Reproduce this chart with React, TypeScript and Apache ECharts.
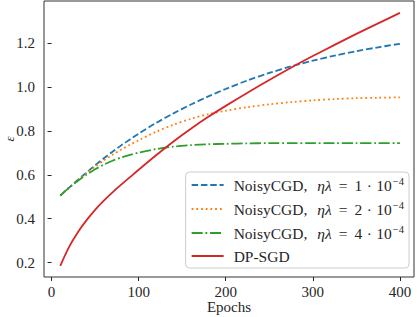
import React, { useEffect, useRef } from "react";
import * as echarts from "echarts";

const epochs = [10, 20, 30, 40, 50, 60, 70, 80, 90, 100, 120, 140, 160, 180, 200, 225, 250, 275, 300, 325, 350, 375, 400];

const cgd1 = [0.505, 0.541, 0.576, 0.61, 0.643, 0.675, 0.705, 0.734, 0.761, 0.787, 0.836, 0.88, 0.92, 0.957, 0.991, 1.03, 1.064, 1.094, 1.12, 1.143, 1.163, 1.181, 1.197];
const cgd2 = [0.505, 0.541, 0.575, 0.607, 0.637, 0.665, 0.691, 0.715, 0.737, 0.757, 0.796, 0.828, 0.855, 0.876, 0.892, 0.908, 0.921, 0.931, 0.939, 0.945, 0.949, 0.951, 0.953];
const cgd4 = [0.505, 0.541, 0.572, 0.6, 0.625, 0.646, 0.664, 0.679, 0.691, 0.701, 0.717, 0.728, 0.735, 0.739, 0.741, 0.743, 0.744, 0.744, 0.744, 0.744, 0.744, 0.744, 0.744];
const dpsgd = [0.185, 0.27, 0.337, 0.392, 0.44, 0.482, 0.52, 0.555, 0.589, 0.623, 0.689, 0.752, 0.81, 0.864, 0.914, 0.974, 1.032, 1.088, 1.141, 1.192, 1.242, 1.29, 1.338];

const xTicks = [0, 100, 200, 300, 400];
const yTicks = [0.2, 0.4, 0.6, 0.8, 1.0, 1.2];

const seriesNames = ["cgd1", "cgd2", "cgd4", "dpsgd"];
const legendLabels: Record<string, string> = {
  cgd1: "{a|NoisyCGD,}{m|ηλ}{o|=}{a|1}{d|·}{a|10}{s|−4}",
  cgd2: "{a|NoisyCGD,}{m|ηλ}{o|=}{a|2}{d|·}{a|10}{s|−4}",
  cgd4: "{a|NoisyCGD,}{m|ηλ}{o|=}{a|4}{d|·}{a|10}{s|−4}",
  dpsgd: "{a|DP-SGD}",
};
const colors = ["#1f77b4", "#ff7f0e", "#2ca02c", "#d62728"];
const dashes: (number[] | string)[] = [[6.5, 2.8], [1.8, 2.9], [11, 2.8, 1.8, 2.8], "solid"];

const FONT = "'Liberation Serif', 'DejaVu Serif', serif";
const INK = "#262626";

export default function App() {
  const ref = useRef<HTMLDivElement>(null);
  useEffect(() => {
    if (!ref.current) return;
    const chart = echarts.init(ref.current, null, { renderer: "svg" });
    const values = [cgd1, cgd2, cgd4, dpsgd];
    const base = { fontFamily: FONT, fontSize: 15.5, color: INK, lineHeight: 18 };
    chart.setOption({
      animation: false,
      grid: {
        left: 44,
        top: 1,
        right: 3,
        bottom: 40,
        containLabel: false,
        outerBoundsMode: "none",
        show: true,
        borderColor: "#333333",
        borderWidth: 1,
        backgroundColor: "transparent",
      },
      xAxis: {
        type: "value",
        min: -8.7,
        max: 416.2,
        splitLine: { show: false },
        axisLine: { show: false },
        axisTick: { show: true, length: 4, inside: false, customValues: xTicks, lineStyle: { color: INK } },
        axisLabel: { customValues: xTicks, margin: 7, fontFamily: FONT, fontSize: 15, lineHeight: 15, color: INK },
        name: "Epochs",
        nameLocation: "middle",
        nameGap: 22,
        nameMoveOverlap: false,
        nameTextStyle: { fontFamily: FONT, fontSize: 15, lineHeight: 15, color: INK, verticalAlign: "top" },
      },
      yAxis: {
        type: "value",
        min: 0.134,
        max: 1.392,
        splitLine: { show: false },
        axisLine: { show: false },
        axisTick: { show: true, length: 4, inside: false, customValues: yTicks, lineStyle: { color: INK } },
        axisLabel: {
          customValues: yTicks,
          margin: 9,
          fontFamily: FONT,
          fontSize: 15,
          color: INK,
          formatter: (v: number) => v.toFixed(1),
        },
        name: "ε",
        nameLocation: "middle",
        nameRotate: 90,
        nameGap: 28,
        nameMoveOverlap: false,
        nameTextStyle: { fontFamily: FONT, fontSize: 13, fontStyle: "italic", color: INK },
      },
      legend: {
        orient: "vertical",
        right: 8,
        top: 172,
        data: seriesNames,
        itemWidth: 32,
        itemHeight: 14,
        itemGap: 6,
        padding: [4, 5, 4, 5],
        backgroundColor: "rgba(255,255,255,0.8)",
        borderColor: "#cccccc",
        borderWidth: 1,
        borderRadius: 4,
        itemStyle: { opacity: 0 },
        formatter: (name: string) => legendLabels[name],
        textStyle: {
          padding: [0, 0, 0, 5],
          rich: {
            a: base,
            m: { ...base, fontStyle: "italic", padding: [0, 0, 0, 10] },
            o: { ...base, padding: [0, 7, 0, 7] },
            d: { ...base, padding: [0, 4.5, 0, 4.5] },
            s: { ...base, fontSize: 10.5, verticalAlign: "top", padding: [0, 0, 7, 1] },
          },
        },
      },
      series: seriesNames.map((n, i) => ({
        name: n,
        type: "line",
        data: epochs.map((e, j) => [e, values[i][j]]),
        showSymbol: false,
        symbol: "none",
        smooth: 0.3,
        color: colors[i],
        lineStyle: { color: colors[i], width: 1.8, type: dashes[i] },
      })),
    });
    return () => chart.dispose();
  }, []);
  return <div ref={ref} style={{ position: "fixed", left: 0, top: 0, width: 417, height: 317, background: "#fff" }} />;
}
